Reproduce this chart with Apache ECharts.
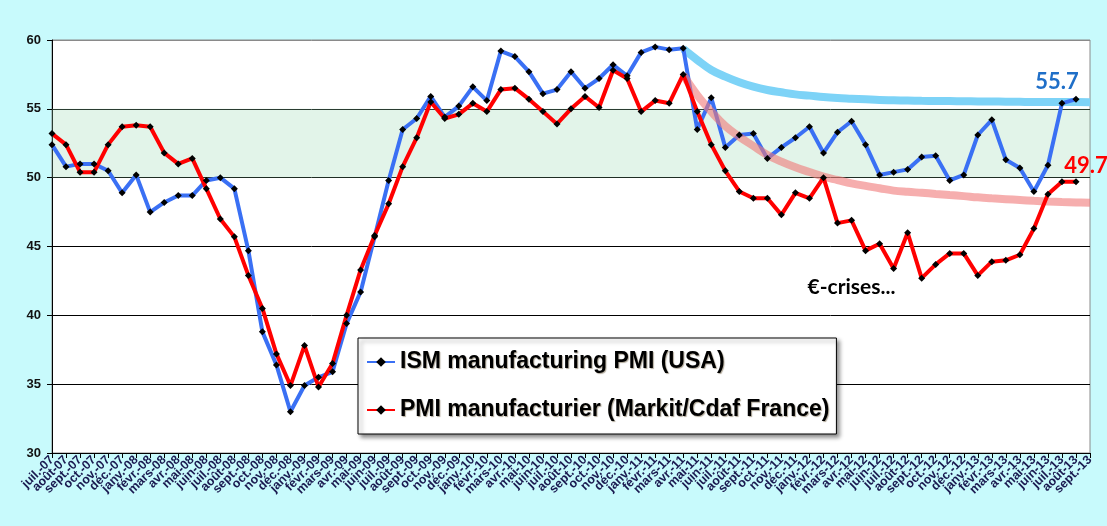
<!DOCTYPE html>
<html>
<head>
<meta charset="utf-8">
<script src="https://cdn.jsdelivr.net/npm/echarts@6/dist/echarts.min.js"></script>
<style>
html,body{margin:0;padding:0;background:#c8fafc;}
#c{width:1107px;height:526px;}
</style>
</head>
<body>
<div id="c"></div>
<script>
const months = ['juil.-07','août-07','sept.-07','oct.-07','nov.-07','déc.-07',
'janv.-08','févr.-08','mars-08','avr.-08','mai-08','juin-08','juil.-08','août-08','sept.-08','oct.-08','nov.-08','déc.-08',
'janv.-09','févr.-09','mars-09','avr.-09','mai-09','juin-09','juil.-09','août-09','sept.-09','oct.-09','nov.-09','déc.-09',
'janv.-10','févr.-10','mars-10','avr.-10','mai-10','juin-10','juil.-10','août-10','sept.-10','oct.-10','nov.-10','déc.-10',
'janv.-11','févr.-11','mars-11','avr.-11','mai-11','juin-11','juil.-11','août-11','sept.-11','oct.-11','nov.-11','déc.-11',
'janv.-12','févr.-12','mars-12','avr.-12','mai-12','juin-12','juil.-12','août-12','sept.-12','oct.-12','nov.-12','déc.-12',
'janv.-13','févr.-13','mars-13','avr.-13','mai-13','juin-13','juil.-13','août-13','sept.-13'];

const ismUSA = [52.4,50.8,51.0,51.0,50.5,48.9,50.2,47.5,48.2,48.7,48.7,49.8,50.0,49.2,44.7,38.8,36.4,33.0,
34.9,35.5,35.9,39.4,41.7,45.7,49.8,53.5,54.3,55.9,54.4,55.2,56.6,55.6,59.2,58.8,57.7,56.1,56.4,57.7,56.5,57.2,58.2,57.4,
59.1,59.5,59.3,59.4,53.5,55.8,52.2,53.1,53.2,51.4,52.2,52.9,53.7,51.8,53.3,54.1,52.4,50.2,50.4,50.6,51.5,51.6,
49.8,50.2,53.1,54.2,51.3,50.7,49.0,50.9,55.4,55.7];

const pmiFrance = [53.2,52.4,50.4,50.4,52.4,53.7,53.8,53.7,51.8,51.0,51.4,49.2,47.0,45.7,42.9,40.5,37.2,34.9,
37.8,34.8,36.5,40.0,43.3,45.8,48.1,50.8,52.9,55.5,54.3,54.6,55.4,54.8,56.4,56.5,55.7,54.8,53.9,55.0,55.9,55.1,57.8,57.2,
54.8,55.6,55.4,57.5,54.8,52.4,50.5,49.0,48.5,48.5,47.3,48.9,48.5,50.0,46.7,46.9,44.7,45.2,43.4,46.0,42.7,43.7,
44.5,44.5,42.9,43.9,44.0,44.4,46.3,48.8,49.7,49.7];

// hand-drawn trend curves, from avr.-11 to sept.-13
const trendStart = 45;
const trendUSA = [59.35,58.55,57.82,57.34,56.93,56.61,56.37,56.2,56.05,55.96,55.86,55.79,55.74,55.69,55.64,55.62,
55.6,55.58,55.57,55.56,55.55,55.54,55.53,55.52,55.51,55.5,55.5,55.49,55.49,55.48];
const trendFrance = [57.46,56.0,54.8,53.75,52.98,52.3,51.65,51.16,50.75,50.41,50.07,49.83,49.59,49.4,49.23,49.06,
48.97,48.9,48.82,48.74,48.66,48.57,48.5,48.44,48.38,48.32,48.27,48.23,48.2,48.17];

const yTicks = [30,35,40,45,50,55,60];
const bandRange = [50,55];
const crisisNote = {text:'€-crises...', at:'avr.-12', value:42.06};

function padTrend(arr){
  const out = [];
  for (let i=0;i<months.length;i++){
    const k = i - trendStart;
    out.push(k>=0 && k<arr.length ? arr[k] : null);
  }
  return out;
}
function withEndLabel(arr, color, offset, dist){
  return arr.map((v,i)=> i===arr.length-1 ? {value:v, label:{show:true, position:'top', distance:dist, offset:offset,
    formatter:String(v), color:color, fontFamily:'Lato', fontWeight:'bold', fontSize:22}} : v);
}

const chart = echarts.init(document.getElementById('c'));
chart.setOption({
  backgroundColor:'#c8fafc',
  animation:false,
  grid:{left:52,right:17,top:40,bottom:73,show:true,backgroundColor:'#ffffff',borderColor:'#8a8a8a',borderWidth:1},
  legend:{
    data:['ISM manufacturing PMI (USA)','PMI manufacturier (Markit/Cdaf France)'],
    orient:'vertical', left:358, top:338,
    backgroundColor:'#ffffff', borderColor:'#000', borderWidth:1,
    padding:[11,7,11,8], itemGap:22, itemWidth:28, itemHeight:12,
    shadowColor:'rgba(0,0,0,0.45)', shadowBlur:4, shadowOffsetX:3, shadowOffsetY:3,
    textStyle:{fontFamily:'Liberation Sans', fontWeight:'bold', fontSize:23, color:'#000', lineHeight:26,
      textShadowColor:'rgba(60,40,0,0.4)', textShadowOffsetX:1, textShadowOffsetY:1, textShadowBlur:1}
  },
  xAxis:{
    type:'category', data:months, boundaryGap:false,
    axisLine:{lineStyle:{color:'#000',width:1}},
    axisTick:{show:true, interval:0, length:5, lineStyle:{color:'#000'}},
    axisLabel:{interval:0, rotate:45, margin:5, fontFamily:'Liberation Sans', fontWeight:'bold', fontSize:12.5, color:'#1a1a50'},
    splitLine:{show:false}
  },
  yAxis:{
    type:'value', min:30, max:60, interval:5,
    axisLine:{show:true, lineStyle:{color:'#000',width:1}},
    axisTick:{show:true, length:5, lineStyle:{color:'#000'}},
    axisLabel:{margin:11, fontFamily:'Liberation Sans', fontWeight:'bold', fontSize:13, color:'#111',
      formatter:v=> yTicks.includes(v) ? String(v) : ''},
    splitLine:{show:true, lineStyle:{color:['#000','#000','#000','#000','#000','#000','#8a8a8a'], width:1}}
  },
  series:[
    {
      name:'trendUSA', type:'line', data:padTrend(trendUSA), smooth:0.4, showSymbol:false, symbol:'none',
      lineStyle:{color:'#7dd3f7', width:8}, silent:true,
      markArea:{silent:true, itemStyle:{color:'rgba(150,215,175,0.28)'},
        data:[[{yAxis:bandRange[0]},{yAxis:bandRange[1]}]]}
    },
    {
      name:'ISM manufacturing PMI (USA)', type:'line', data:withEndLabel(ismUSA,'#1f6fc8',[-19,0],3),
      symbol:'diamond', symbolSize:7, showAllSymbol:true,
      itemStyle:{color:'#000'}, lineStyle:{color:'#3a70f4', width:4}
    },
    {
      name:'trendFrance', type:'line', data:padTrend(trendFrance), smooth:0.4, symbol:'none',
      lineStyle:{color:'rgb(240,120,120)', width:8, opacity:0.6}, silent:true
    },
    {
      name:'PMI manufacturier (Markit/Cdaf France)', type:'line', data:withEndLabel(pmiFrance,'#ff0000',[10,0],1),
      symbol:'diamond', symbolSize:7, showAllSymbol:true,
      itemStyle:{color:'#000'}, lineStyle:{color:'#ff0000', width:4},
      markPoint:{silent:true, symbol:'circle', symbolSize:0,
        label:{show:true, position:'inside', formatter:crisisNote.text, color:'#000', fontFamily:'Lato', fontWeight:'bold', fontSize:21},
        data:[{coord:[crisisNote.at, crisisNote.value]}]}
    }
  ]
});
</script>
</body>
</html>
